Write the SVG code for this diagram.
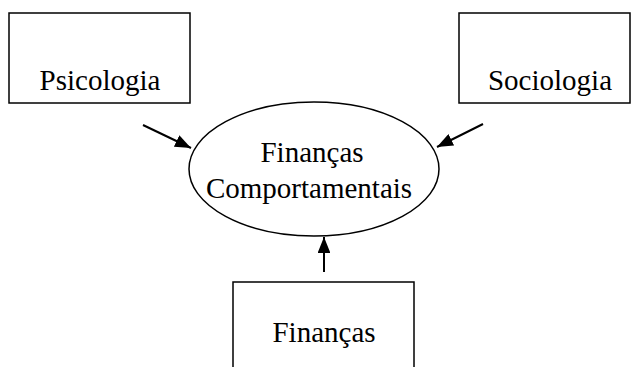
<svg xmlns="http://www.w3.org/2000/svg" width="632" height="367" viewBox="0 0 632 367">
<style>
.box{fill:#fff;stroke:#000;stroke-width:1.5}
.lbl{font-family:"Liberation Serif","Times New Roman",serif;font-size:29px;fill:#000;text-anchor:middle}
.conn{stroke:#000;stroke-width:2;fill:none}
</style>
<defs>
<marker id="ah" viewBox="0 0 10 8" refX="10" refY="4" markerWidth="8" markerHeight="6.4" markerUnits="strokeWidth" orient="auto">
<path d="M0,0 L10,4 L0,8 z" fill="#000"/>
</marker>
</defs>
<rect width="632" height="367" fill="#fff"/>
<g id="psicologia">
<rect class="box" x="9" y="13" width="181" height="90"/>
<text class="lbl" x="100" y="90">Psicologia</text>
</g>
<g id="sociologia">
<rect class="box" x="459" y="13" width="171" height="90"/>
<text class="lbl" x="550" y="90">Sociologia</text>
</g>
<g id="financas-comportamentais">
<ellipse class="box" cx="314" cy="169" rx="125" ry="67"/>
<text class="lbl" x="312" y="162">Finanças</text>
<text class="lbl" x="309" y="198">Comportamentais</text>
</g>
<g id="financas">
<rect class="box" x="233" y="282" width="181" height="100"/>
<text class="lbl" x="324" y="342">Finanças</text>
</g>
<g id="connectors">
<line class="conn" x1="143" y1="125" x2="191" y2="148" marker-end="url(#ah)"/>
<line class="conn" x1="483" y1="124" x2="437" y2="147" marker-end="url(#ah)"/>
<line class="conn" x1="324" y1="272" x2="324" y2="237" marker-end="url(#ah)"/>
</g>
</svg>
